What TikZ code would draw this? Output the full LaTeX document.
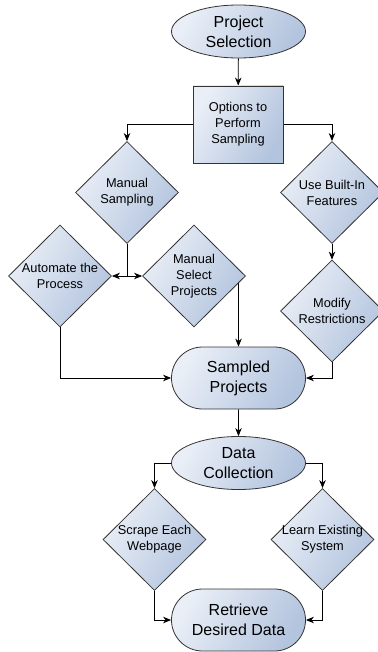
\documentclass[tikz,border=0pt]{standalone}
\usepackage{fontspec}
\setmainfont{Liberation Sans}
\usepackage{tikz}
\usetikzlibrary{shapes.geometric,shapes.misc,arrows.meta}
\pgfdeclarelayer{background}
\pgfdeclarelayer{foreground}
\pgfsetlayers{background,main,foreground}
\definecolor{fillA}{HTML}{EAEFF7}
\definecolor{fillB}{HTML}{B3C4DE}
\definecolor{edge}{HTML}{333333}
\tikzset{
  base/.style={draw=edge, line width=0.8pt, left color=fillA, right color=fillB, shading angle=60, inner sep=0pt, align=center},
  big/.style={font=\fontsize{16}{20}\selectfont},
  small/.style={font=\fontsize{12.8}{16}\selectfont},
  startend/.style={base, big, ellipse, minimum width=134pt, minimum height=53pt},
  term/.style={base, big, rounded rectangle, minimum width=134pt, minimum height=62pt},
  proc/.style={base, small, rectangle, minimum width=90pt, minimum height=77pt},
  dec/.style={base, diamond, minimum width=103pt, minimum height=102pt},
  dectxt/.style={small, align=center, inner sep=0pt},
  conn/.style={line width=0.8pt, -{Stealth[length=8pt,width=6.5pt,inset=2.5pt]}}
}
\begin{document}
\begin{tikzpicture}[x=1pt,y=-1pt]
\useasboundingbox (0,0) rectangle (377,652);
\node[startend] (psel) at (238.5,31.5) {Project\\Selection};
\node[proc] (opt) at (238,124.5) {Options to\\Perform\\Sampling};
\node[dec] (msamp) at (127,192.5) {};
\node[dectxt] (msampT) at (msamp) {Manual\\Sampling};
\node[dec] (builtin) at (332,192.5) {};
\node[dectxt] (builtinT) at (builtin) {Use Built-In\\Features};
\node[dec] (auto) at (60,276) {};
\node[dectxt] (autoT) at (auto) {Automate the\\Process};
\node[dec] (msel) at (194,276) {};
\node[dectxt] (mselT) at (msel) {Manual\\Select\\Projects};
\node[dec] (modify) at (332,311) {};
\node[dectxt] (modifyT) at (modify) {Modify\\Restrictions};
\node[term] (sampled) at (238.5,378) {Sampled\\Projects};
\node[startend] (data) at (238.5,463) {Data\\Collection};
\node[dec] (scrape) at (154.5,539.5) {};
\node[dectxt] (scrapeT) at (scrape) {Scrape Each\\Webpage};
\node[dec] (learn) at (322.5,539.5) {};
\node[dectxt] (learnT) at (learn) {Learn Existing\\System};
\node[term] (retr) at (238.5,620) {Retrieve\\Desired Data};
\begin{pgfonlayer}{background}
\draw[conn] (psel) -- (opt);
\draw[conn] (opt.west) -| (msamp.north);
\draw[conn] (opt.east) -| (builtin.north);
\draw[conn] (msamp.south) |- (auto.east);
\draw[conn] (msamp.south) |- (msel.west);
\draw[conn] (builtin) -- (modify);
\draw[conn] (msel.center -| sampled.north) -- (sampled.north);
\draw[conn] (auto.south) |- (sampled.west);
\draw[conn] (modify.south) |- (sampled.east);
\draw[conn] (sampled) -- (data);
\draw[conn] (data.west) -| (scrape.north);
\draw[conn] (data.east) -| (learn.north);
\draw[conn] (scrape.south) |- (retr.west);
\draw[conn] (learn.south) |- (retr.east);
\end{pgfonlayer}
\end{tikzpicture}
\end{document}
